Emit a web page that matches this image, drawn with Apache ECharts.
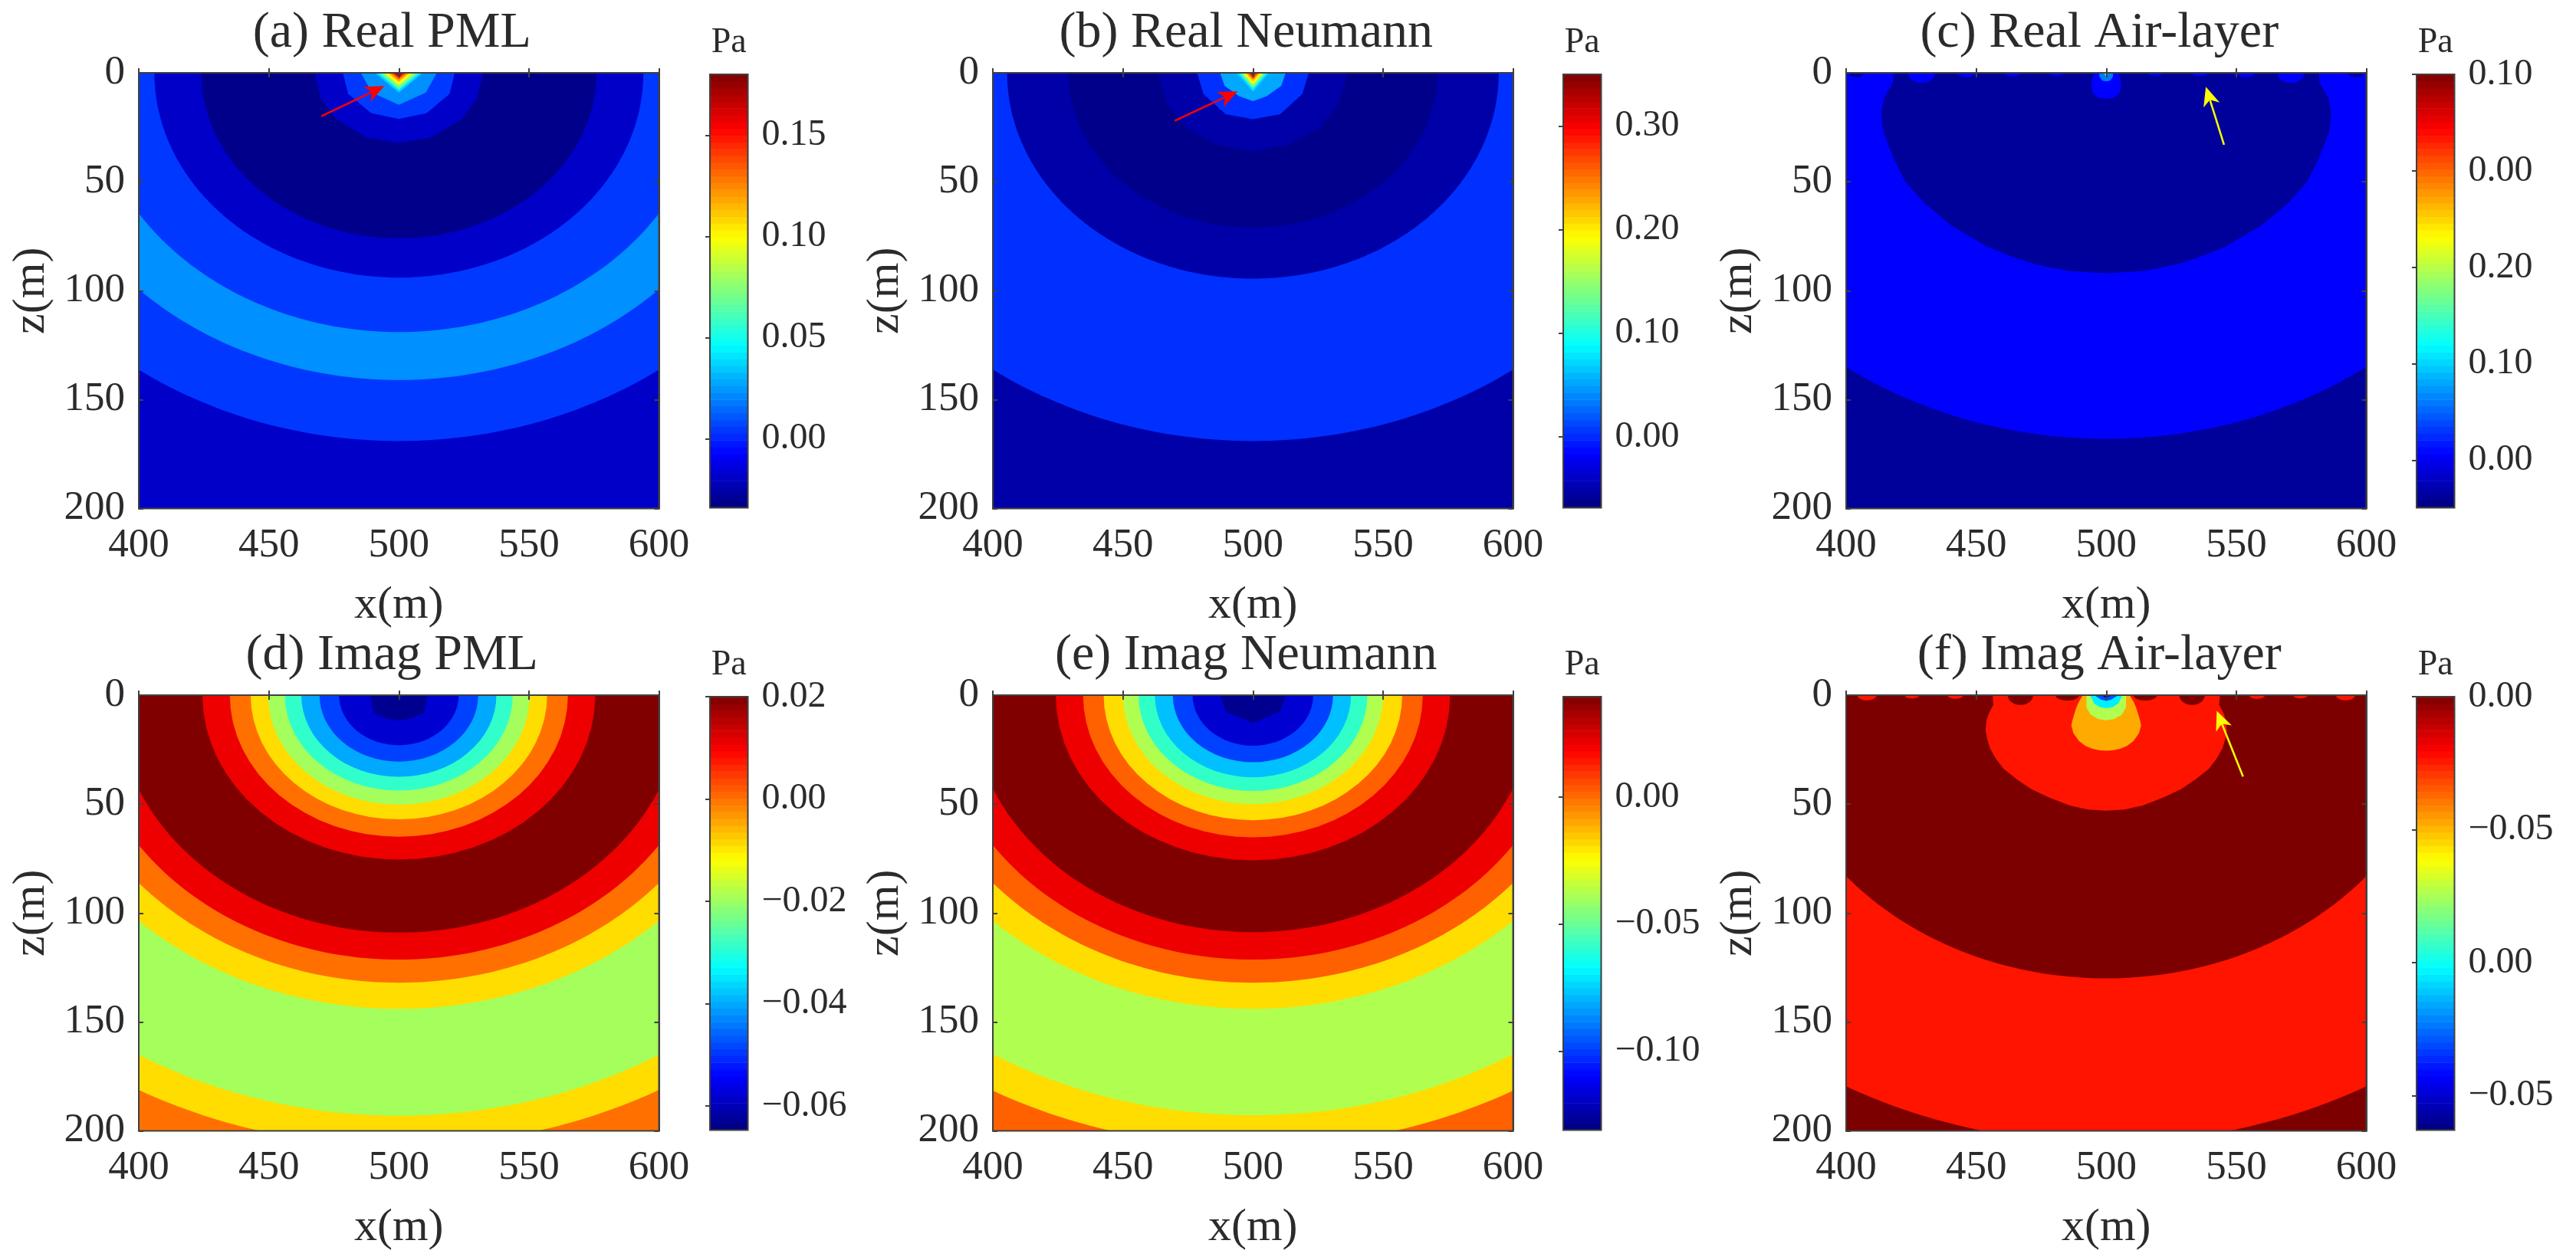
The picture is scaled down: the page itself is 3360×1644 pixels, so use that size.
<!DOCTYPE html>
<html>
<head>
<meta charset="utf-8">
<title>Real and imaginary pressure fields</title>
<script src="https://cdn.jsdelivr.net/npm/echarts@6/dist/echarts.min.js"></script>
<style>
html, body { margin: 0; padding: 0; background: #fff; }
#chart { width: 3360px; height: 1644px; }
</style>
</head>
<body>
<div id="chart"></div>
<script>
// chart values. contours are [distance from x=500, z] in metres
var panelTitles = ["(a) Real PML", "(b) Real Neumann", "(c) Real Air-layer", "(d) Imag PML", "(e) Imag Neumann", "(f) Imag Air-layer"];

// radii of the circular contours, outermost first
var radiiA = [260, 169, 141, 119, 94, 76];
var radiiB = [260, 169, 94.5, 71];
var radiiC = [260, 168];
var radiiD = [260, 222, 207, 193, 144, 132, 121.4, 109, 75.5, 65, 57, 50.3, 43.8, 37.5, 30.5, 23];
var radiiE = [260, 207.3, 192.8, 144, 132, 121.4, 108.8, 75.8, 65.3, 57.4, 50, 44, 37.7, 30.8, 23.2];
var radiiF = [260, 205.5, 130];

// irregular contours near the source
var innerA = [
    [[32.4, 0], [29.9, 12], [24, 21.5], [12.2, 29.7], [0, 32.2]],
    [[21.5, 0], [19.5, 9.7], [10.7, 18.5], [0, 21.2]],
    [[14.6, 0], [10.4, 9.1], [0, 14.7]],
    [[9.2, 0], [0, 9.1]], [[8, 0], [0, 7.8]], [[6.8, 0], [0, 6.6]], [[5.5, 0], [0, 5.4]],
    [[4.3, 0], [0, 4.2]], [[3.2, 0], [0, 3.1]], [[2.2, 0], [0, 2.1]], [[1.2, 0], [0, 1.1]]
];
var innerB = [
    [[36.6, 0], [33, 14], [26, 25], [14, 33], [0, 36]],
    [[21.5, 0], [19, 9.7], [10.5, 19], [0, 21.3]],
    [[12.6, 0], [10.9, 6], [5.3, 10.7], [0, 13]],
    [[6.3, 0], [0, 8.8]], [[5.4, 0], [0, 7.5]], [[4.5, 0], [0, 6.3]], [[3.7, 0], [0, 5.2]],
    [[2.9, 0], [0, 4]], [[2.1, 0], [0, 2.9]], [[1.3, 0], [0, 1.8]], [[0.7, 0], [0, 0.9]]
];
var innerC = [
    [[81.7, 0], [82, 4.7], [84, 8.5], [85.6, 12.3], [86.5, 19.3], [85.6, 27.5], [81.3, 40.4], [77.2, 50], [69.7, 60], [59.7, 70], [45.4, 80], [35, 85], [26.8, 88], [14, 91], [0, 92]],
    [[4.7, 0], [5.5, 3], [5.8, 6], [5, 9.5], [3, 11.5], [0, 12]],
    [[2.7, 0], [2.5, 2], [1.5, 3.6], [0, 4]],
    [[1, 0], [0, 2]],
    [[0.5, 0], [0, 1.2]]
];
var innerD = [
    [[11, 0], [9.7, 8], [5, 10.6], [0, 11.8]]
];
var innerE = [
    [[12.6, 0], [10.5, 7.5], [0, 12.8]]
];
var innerF = [
    [[43.7, 0], [43.4, 4.5], [45, 8], [46, 11.5], [46.4, 16], [45.8, 20], [44.7, 24.4], [42.5, 29], [39.5, 33.8], [34.5, 38.5], [29, 43], [22, 47], [14, 50.7], [7, 52.5], [0, 53]],
    [[9, 0], [10.5, 3], [11.6, 6], [13, 11.5], [13.4, 14], [12.6, 17.5], [10.5, 21], [8, 23.3], [5.3, 24.6], [2.5, 25.3], [0, 25.5]],
    [[7.6, 0], [7.6, 5.6], [6, 9], [3, 11], [0, 11.5]],
    [[6.3, 0], [4.6, 3.9], [2.4, 5.5], [0, 6]],
    [[4.6, 0], [2, 2], [0, 2.6]],
    [[2, 0], [0, 1.2]]
];

// small half-ellipse lobes on the surface: [distance from x=500, half width, depth]
var lobesC = [[96, 3, 2], [71, 5.2, 4.6], [53.7, 3.6, 2], [36, 3, 1.6], [19, 2.7, 1.3]];
var lobesF = [[92, 3.7, 2.4], [74.7, 2.8, 1.5], [58, 3, 1.7], [33, 4.9, 4.5], [15, 4.5, 2.5]];

// arrows: [tail x, tail z, tip x, tip z]
var arrowA = [[470.2, 19.9, 494.4, 6.1]];
var arrowB = [[469.9, 22, 494.1, 8.5]];
var arrowC = [[545.3, 33, 538.3, 6.4]];
var arrowF = [[552.6, 37.4, 542.5, 7.2]];

// colorbars, tick labels are kept the way the figure prints them
var barRanges = [[-0.034, 0.18], [-0.0685, 0.35], [-0.049, 0.4], [-0.0647, 0.02], [-0.131, 0.0395], [-0.163, 0]];
var barTicks = [
    [0, 0.05, 0.10, 0.15],
    [0, 0.10, 0.20, 0.30],
    [0, 0.10, 0.20, 0.30, 0.40],
    [-0.06, -0.04, -0.02, 0, 0.02],
    [-0.10, -0.05, 0],
    [-0.15, -0.10, -0.05, 0]
];
var barLabels = [
    ["0.00", "0.05", "0.10", "0.15"],
    ["0.00", "0.10", "0.20", "0.30"],
    ["0.00", "0.10", "0.20", "0.00", "0.10"],
    ["\u22120.06", "\u22120.04", "\u22120.02", "0.00", "0.02"],
    ["\u22120.10", "\u22120.05", "0.00"],
    ["\u22120.05", "0.00", "\u22120.05", "0.00"]
];

// band colours, same order as the contours above
var fanColors = ["#00d8ff", "#40ffc0", "#a0ff60", "#ffff00", "#ffb000", "#ff5000", "#e00000", "#800000"];
var colorsRadiiA = ["#0000c8", "#0038ff", "#0090ff", "#0038ff", "#0000c8", "#00008a"];
var colorsInnerA = ["#0000c8", "#0038ff", "#0090ff"].concat(fanColors);
var colorsRadiiB = ["#0000a8", "#0030ff", "#0000a8", "#00008a"];
var colorsInnerB = ["#0000a8", "#0030ff", "#00a8ff"].concat(fanColors);
var colorsRadiiC = ["#00009a", "#0000ff"];
var colorsInnerC = ["#00009a", "#0000ff", "#0078ff", "#00e0c0", "#a0ff40"];
var colorsLobesC = ["#00009a", "#0000ff", "#0000ff", "#0000ff", "#0000ff"];
var colorsRadiiD = ["#ff7000", "#ff7000", "#ffdd00", "#a4ff5c", "#ffdd00", "#ff7000", "#ee0000", "#800000", "#ee0000", "#ff7000", "#ffdd00", "#a4ff5c", "#30ffcc", "#00a8ff", "#0040ff", "#0000d0"];
var colorsInnerD = ["#000090"];
var colorsRadiiE = ["#ff6000", "#ffdd00", "#b0ff50", "#ffdd00", "#ff6000", "#ee0000", "#800000", "#ee0000", "#ff6000", "#ffdd00", "#b0ff50", "#30ffc8", "#00c0ff", "#0040ff", "#0000d0"];
var colorsInnerE = ["#000090"];
var colorsRadiiF = ["#7c0000", "#ff1400", "#7c0000"];
var colorsInnerF = ["#ff1400", "#ffaa00", "#b0ff50", "#00f0ff", "#0050ff", "#000090"];
var colorsLobesF = ["#ff1400", "#ff1400", "#ff1400", "#7c0000", "#7c0000"];

var plotLeft = [181, 1295, 2408];
var barLeft = [926, 2039, 3152];
var rowTop = [95, 907];
var plotW = 678.5, plotH = 568.5;
var barW = 49.5, barH = 565.5;
var titleOffset = -9;
var inkColor = "#2b2b2b";
var frameColor = "#404040";
var serif = "Liberation Serif";

function arcProfile(r) {
    // contours are faceted the tighter they are around the source mesh
    var facets = r < 80 ? 16 : 72;
    var pts = [];
    for (var i = 0; i <= facets; i++) {
        var a = i / facets * Math.PI / 2;
        pts.push([r * Math.cos(a), r * Math.sin(a)]);
    }
    return pts;
}

function lobeProfile(w, d) {
    var pts = [];
    for (var i = 0; i <= 10; i++) {
        var a = i / 10 * Math.PI / 2;
        pts.push([w * Math.cos(a), d * Math.sin(a)]);
    }
    return pts;
}

// shape is a half profile, it gets mirrored round x = 500 + offset
function mirrored(profile, offset) {
    var pts = [];
    profile.forEach(function (p) { pts.push([500 + offset + p[0], p[1]]); });
    for (var i = profile.length - 1; i >= 0; i--) {
        pts.push([500 + offset - profile[i][0], profile[i][1]]);
    }
    return pts;
}

function buildShapes(radii, radiiColors, inner, innerColors, lobes, lobeColors) {
    var shapes = [];
    radii.forEach(function (r, i) {
        shapes.push({ pts: mirrored(arcProfile(r), 0), fill: radiiColors[i] });
    });
    (inner || []).forEach(function (c, i) {
        shapes.push({ pts: mirrored(c, 0), fill: innerColors[i] });
    });
    (lobes || []).forEach(function (l, i) {
        shapes.push({ pts: mirrored(lobeProfile(l[1], l[2]), l[0]), fill: lobeColors[i] });
        shapes.push({ pts: mirrored(lobeProfile(l[1], l[2]), -l[0]), fill: lobeColors[i] });
    });
    return shapes;
}

function jetColor(i, n) {
    var t = (i + 0.5) / n;
    function c(v) { return Math.round(Math.max(0, Math.min(1, v)) * 255); }
    return "rgb(" + c(1.5 - Math.abs(4 * t - 3)) + "," + c(1.5 - Math.abs(4 * t - 2)) + "," + c(1.5 - Math.abs(4 * t - 1)) + ")";
}

var panelShapes = [
    buildShapes(radiiA, colorsRadiiA, innerA, colorsInnerA),
    buildShapes(radiiB, colorsRadiiB, innerB, colorsInnerB),
    buildShapes(radiiC, colorsRadiiC, null, null),
    buildShapes(radiiD, colorsRadiiD, innerD, colorsInnerD),
    buildShapes(radiiE, colorsRadiiE, innerE, colorsInnerE),
    buildShapes(radiiF, colorsRadiiF, null, null)
];
// air-layer panels: the lobes sit between the big contour and the source teardrop
panelShapes[2] = panelShapes[2]
    .concat(buildShapes([], [], innerC.slice(0, 1), colorsInnerC.slice(0, 1), lobesC, colorsLobesC))
    .concat(buildShapes([], [], innerC.slice(1), colorsInnerC.slice(1)));
panelShapes[5] = panelShapes[5]
    .concat(buildShapes([], [], innerF.slice(0, 1), colorsInnerF.slice(0, 1), lobesF, colorsLobesF))
    .concat(buildShapes([], [], innerF.slice(1), colorsInnerF.slice(1)));

var panelArrows = [arrowA, arrowB, arrowC, [], [], arrowF];
var arrowColors = ["#ff0000", "#ff0000", "#ffff00", "", "", "#ffff00"];

function renderContour(shapes) {
    return function (params, api) {
        var s = shapes[api.value(0)];
        return {
            type: "polygon",
            shape: { points: s.pts.map(function (p) { return api.coord(p); }) },
            style: { fill: s.fill }
        };
    };
}

function renderArrow(color) {
    return function (params, api) {
        var tail = api.coord([api.value(0), api.value(1)]);
        var tip = api.coord([api.value(2), api.value(3)]);
        var dx = tip[0] - tail[0], dy = tip[1] - tail[1];
        var len = Math.sqrt(dx * dx + dy * dy);
        var ux = dx / len, uy = dy / len;
        var back = 25, notch = 18, half = 11;
        return {
            type: "group",
            children: [{
                type: "line",
                shape: { x1: tail[0], y1: tail[1], x2: tip[0] - ux * notch, y2: tip[1] - uy * notch },
                style: { stroke: color, lineWidth: 2.5 }
            }, {
                type: "polygon",
                shape: { points: [
                    tip,
                    [tip[0] - ux * back - uy * half, tip[1] - uy * back + ux * half],
                    [tip[0] - ux * notch, tip[1] - uy * notch],
                    [tip[0] - ux * back + uy * half, tip[1] - uy * back - ux * half]
                ] },
                style: { fill: color }
            }]
        };
    };
}

function renderBarLevel(range) {
    return function (params, api) {
        var i = api.value(0);
        var step = (range[1] - range[0]) / 64;
        var a = api.coord([0, range[0] + i * step]);
        var b = api.coord([1, range[0] + (i + 1) * step]);
        return {
            type: "rect",
            shape: { x: a[0], y: b[1], width: b[0] - a[0], height: a[1] - b[1] + 0.6 },
            style: { fill: jetColor(i, 64) }
        };
    };
}

var option = {
    animation: false,
    backgroundColor: "#ffffff",
    title: [], grid: [], xAxis: [], yAxis: [], series: []
};

var tickStyle = { inside: true, length: 6, lineStyle: { color: frameColor, width: 2 } };
var lineStyle = { lineStyle: { color: frameColor, width: 2 } };
var tickFont = { color: inkColor, fontFamily: serif, fontSize: 53 };

var levels = [];
for (var lv = 0; lv < 64; lv++) { levels.push([lv]); }

panelTitles.forEach(function (name, p) {
    var col = p % 3, row = Math.floor(p / 3);
    var left = plotLeft[col], top = rowTop[row];

    option.title.push({
        text: name, left: left + plotW / 2 + titleOffset, top: top - 51, padding: 0,
        textAlign: "center", textVerticalAlign: "middle",
        textStyle: { fontFamily: serif, fontWeight: "normal", fontSize: 66, color: inkColor }
    });
    option.title.push({
        text: "Pa", left: barLeft[col] + barW / 2, top: top - 39, padding: 0,
        textAlign: "center", textVerticalAlign: "middle",
        textStyle: { fontFamily: serif, fontWeight: "normal", fontSize: 46, color: inkColor }
    });

    // plot box
    var g = option.grid.length;
    option.grid.push({ left: left, top: top, width: plotW, height: plotH, show: true, z: 6,
        backgroundColor: "transparent", borderColor: frameColor, borderWidth: 2 });
    var xa = option.xAxis.length, ya = option.yAxis.length;
    option.xAxis.push({
        gridIndex: g, type: "value", min: 400, max: 600, interval: 50, position: "bottom", z: 7,
        name: "x(m)", nameLocation: "middle", nameGap: 97,
        nameTextStyle: { color: inkColor, fontFamily: serif, fontSize: 60 },
        axisLine: lineStyle, axisTick: tickStyle, splitLine: { show: false },
        axisLabel: Object.assign({ margin: 22, showMinLabel: true, showMaxLabel: true }, tickFont)
    });
    option.xAxis.push({
        gridIndex: g, type: "value", min: 400, max: 600, interval: 50, position: "top", z: 7,
        axisLine: lineStyle, axisTick: tickStyle, splitLine: { show: false }, axisLabel: { show: false }
    });
    option.yAxis.push({
        gridIndex: g, type: "value", min: 0, max: 200, interval: 50, inverse: true, position: "left", z: 7,
        name: "z(m)", nameLocation: "middle", nameGap: 110,
        nameTextStyle: { color: inkColor, fontFamily: serif, fontSize: 60 },
        axisLine: lineStyle, axisTick: tickStyle, splitLine: { show: false },
        axisLabel: Object.assign({ margin: 18, showMinLabel: true, showMaxLabel: true, padding: [0, 0, 8, 0] }, tickFont)
    });
    option.yAxis.push({
        gridIndex: g, type: "value", min: 0, max: 200, interval: 50, inverse: true, position: "right", z: 7,
        axisLine: lineStyle, axisTick: tickStyle, splitLine: { show: false }, axisLabel: { show: false }
    });

    var shapes = panelShapes[p];
    option.series.push({
        type: "custom", xAxisIndex: xa, yAxisIndex: ya, clip: true, z: 2, silent: true,
        data: shapes.map(function (s, i) { return [i]; }),
        renderItem: renderContour(shapes)
    });
    if (panelArrows[p].length) {
        option.series.push({
            type: "custom", xAxisIndex: xa, yAxisIndex: ya, clip: true, z: 3, silent: true,
            data: panelArrows[p],
            renderItem: renderArrow(arrowColors[p])
        });
    }

    // colorbar, only the right side has ticks
    var gb = option.grid.length;
    option.grid.push({ left: barLeft[col], top: top + 2, width: barW, height: barH, show: true, z: 6,
        backgroundColor: "transparent", borderColor: frameColor, borderWidth: 2 });
    var xb = option.xAxis.length, yb = option.yAxis.length;
    option.xAxis.push({
        gridIndex: gb, type: "value", min: 0, max: 1, show: false
    });
    var ticks = barTicks[p], labels = barLabels[p];
    option.yAxis.push({
        gridIndex: gb, type: "value", min: barRanges[p][0], max: barRanges[p][1], position: "right", z: 7,
        axisLine: { show: false }, splitLine: { show: false },
        axisTick: { inside: true, length: 6, customValues: ticks, lineStyle: { color: frameColor, width: 2 } },
        axisLabel: Object.assign({
            margin: 18, customValues: ticks, padding: [0, 0, 6, 0],
            formatter: function (v) { return labels[ticks.indexOf(v)]; }
        }, tickFont, { fontSize: 48 })
    });
    option.series.push({
        type: "custom", xAxisIndex: xb, yAxisIndex: yb, z: 2, silent: true,
        data: levels,
        renderItem: renderBarLevel(barRanges[p])
    });
});

var chart = echarts.init(document.getElementById("chart"), null, { renderer: "canvas" });
chart.setOption(option);
</script>
</body>
</html>
